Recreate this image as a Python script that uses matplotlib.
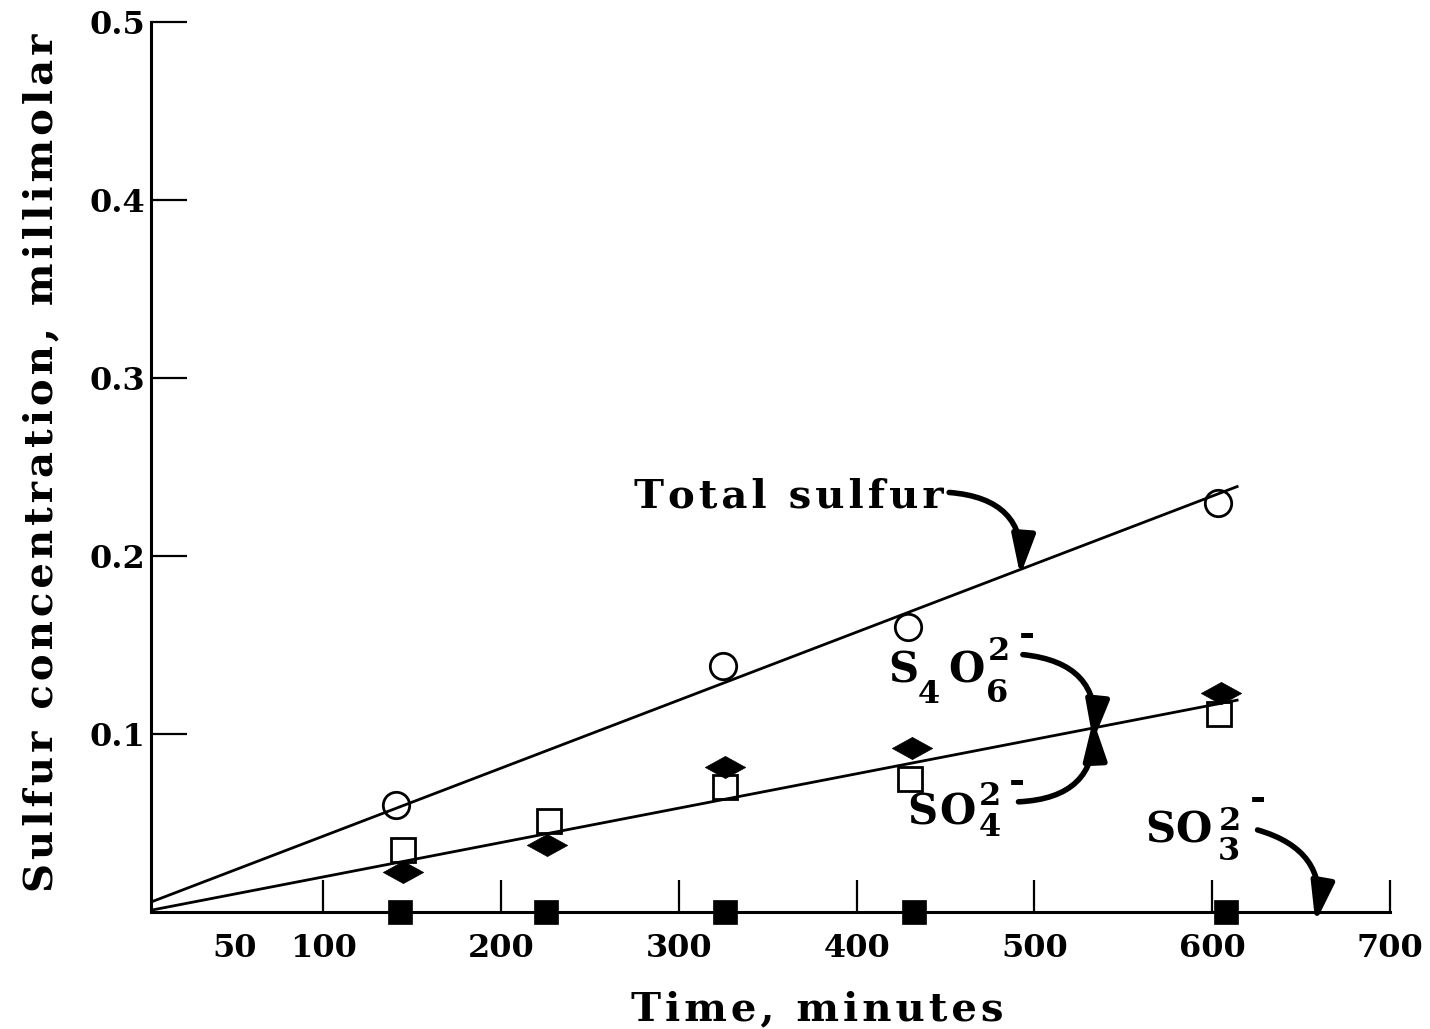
import matplotlib
matplotlib.use("Agg")
import matplotlib.pyplot as plt
from matplotlib.patches import FancyArrowPatch
from matplotlib.path import Path

# Measured concentrations (millimolar) against time (minutes)
time_total = [141, 325, 429, 603]
total_sulfur = [0.060, 0.138, 0.160, 0.230]

time_so4 = [145, 227, 326, 430, 604]
sulfate = [0.035, 0.051, 0.070, 0.075, 0.111]

time_s4o6 = [145, 226, 326, 431, 605]
tetrathionate = [0.0225, 0.0375, 0.0815, 0.092, 0.123]

time_so3 = [143, 225, 326, 432, 608]
sulfite = [0.0, 0.0, 0.0, 0.0, 0.0]

# Straight-line fits
fit_time = [3, 614]
total_fit = [0.0056, 0.239]
ion_fit = [0.001, 0.119]

x_ticks = [100, 200, 300, 400, 500, 600, 700]
x_ticklabels = ["100", "200", "300", "400", "500", "600", "700"]
y_ticks = [0.1, 0.2, 0.3, 0.4, 0.5]
y_ticklabels = ["0.1", "0.2", "0.3", "0.4", "0.5"]

plt.rcParams["font.family"] = ["DejaVu Serif"]
plt.rcParams["font.weight"] = "bold"

HAIR = "\u200a"


def tracked(s):
    """Open up the letter spacing a little."""
    return HAIR.join(s)


W, H = 1430, 1029
fig = plt.figure(figsize=(W / 100, H / 100), dpi=100)
ax = fig.add_axes([151 / W, 117 / H, 1239 / W, 890 / H])

ax.set_xlim(3, 700)
ax.set_ylim(0, 0.5)

for side in ("top", "right"):
    ax.spines[side].set_visible(False)
for side in ("left", "bottom"):
    ax.spines[side].set_linewidth(2.2)

# Fit lines
ax.plot(fit_time, total_fit, color="black", lw=2.0, zorder=2)
ax.plot(fit_time, ion_fit, color="black", lw=2.0, zorder=2)

# Data markers
ax.plot(time_total, total_sulfur, ls="none", marker="o", ms=19,
        mfc="none", mec="black", mew=2.0, zorder=3, clip_on=False)
ax.plot(time_so4, sulfate, ls="none", marker="s", ms=17,
        mfc="none", mec="black", mew=2.0, zorder=3, clip_on=False)
flat_diamond = Path([(-1, 0), (0, 0.55), (1, 0), (0, -0.55), (-1, 0)],
                    [Path.MOVETO, Path.LINETO, Path.LINETO, Path.LINETO, Path.CLOSEPOLY])
ax.plot(time_s4o6, tetrathionate, ls="none", marker=flat_diamond, ms=29,
        mfc="black", mec="black", mew=0.5, zorder=4, clip_on=False)
ax.plot(time_so3, sulfite, ls="none", marker="s", ms=17,
        mfc="black", mec="black", mew=0.5, zorder=4, clip_on=False)

# Ticks
ax.set_xticks(x_ticks)
ax.set_xticklabels(x_ticklabels)
ax.set_xticks([50], minor=True)
ax.set_xticklabels(["50"], minor=True)
ax.set_yticks(y_ticks)
ax.set_yticklabels(y_ticklabels)
ax.tick_params(axis="x", which="major", direction="in", length=23, width=1.6,
               pad=15, labelsize=23)
ax.tick_params(axis="x", which="minor", direction="in", length=0,
               pad=15, labelsize=23)
ax.tick_params(axis="y", direction="in", length=26, width=1.6,
               pad=4, labelsize=23)

# Axis titles
ax.set_xlabel(tracked("Time, minutes"), fontsize=29, fontweight="bold")
ax.xaxis.set_label_coords((817 - 151) / 1239, (912 - 1020) / 890)
ax.xaxis.label.set_va("baseline")
ax.set_ylabel(tracked("Sulfur concentration, millimolar"), fontsize=29,
              fontweight="bold")
ax.yaxis.set_label_coords((52 - 151) / 1239, 0.505)
ax.yaxis.label.set_va("baseline")

# Curve labels
ax.text(274.5, 0.2273, tracked("Total sulfur"), fontsize=29, fontweight="bold",
        ha="left", va="baseline")


def formula(t, c, parts):
    """Write a chemical formula piece by piece, offsets in pixels from the
    baseline-left corner of the first letter."""
    for text, dx, dy, size in parts:
        ax.annotate(text, xy=(t, c), xytext=(dx, dy), textcoords="offset pixels",
                    fontsize=size, fontweight="bold", ha="left", va="baseline",
                    annotation_clip=False)


MAIN, SMALL, DASH = 30, 23, 28
formula(418, 0.1288, [("S", 0, 0, MAIN), ("4", 29, -20, SMALL),
                      ("O", 60, 0, MAIN), ("6", 97, -19, SMALL),
                      ("2", 99, 23, SMALL), ("-", 130, 37, DASH)])
formula(428.6, 0.0489, [("S", 0, 0, MAIN), ("O", 32, 0, MAIN),
                        ("4", 71, -11, SMALL), ("2", 71, 20, SMALL),
                        ("-", 101, 32, DASH)])
formula(562.4, 0.0388, [("S", 0, 0, MAIN), ("O", 30, 0, MAIN),
                        ("3", 72, -17, SMALL), ("2", 73, 13, SMALL),
                        ("-", 104, 33, DASH)])

# Curved pointer arrows
arrows = [
    ((452, 0.2357), (492, 0.1890), -0.5),
    ((493.5, 0.1446), (533, 0.0960), -0.5),
    ((491, 0.0619), (533, 0.1080), 0.5),
    ((625.5, 0.0461), (658, -0.006), -0.45),
]
for start, end, rad in arrows:
    arr = FancyArrowPatch(start, end, connectionstyle=f"arc3,rad={rad}",
                          arrowstyle="-|>,head_length=2.4,head_width=0.7",
                          mutation_scale=10, lw=4, color="black",
                          shrinkA=0, shrinkB=0, transform=ax.transData,
                          clip_on=False, zorder=5)
    ax.add_patch(arr)

fig.savefig("out.png", dpi=100)
